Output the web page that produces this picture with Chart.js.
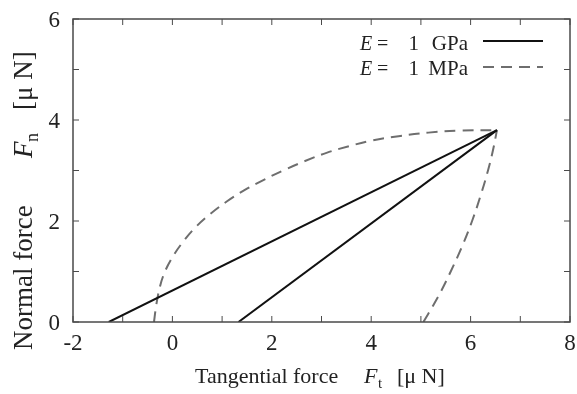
<!DOCTYPE html>
<html>
<head>
<meta charset="utf-8">
<script src="https://cdn.jsdelivr.net/npm/chart.js@4/dist/chart.umd.min.js"></script>
<style>
  html, body { margin: 0; padding: 0; background: #fff; }
</style>
</head>
<body>
<canvas id="chart" width="577" height="394"></canvas>
<script>
// axis ticks
const xTicks = [-2, 0, 2, 4, 6, 8];
const xMinor = [-1, 1, 3, 5, 7];
const yTicks = [0, 2, 4, 6];
const yMinor = [1, 3, 5];

// E = 1 GPa (solid): loading and unloading lines
const gpaLoadX = [-1.28, 6.53];
const gpaLoadY = [0, 3.80];
const gpaUnloadX = [1.33, 6.53];
const gpaUnloadY = [0, 3.80];

// E = 1 MPa (dashed): two curved branches
const mpaUpperX = [-0.37, -0.33, -0.27, -0.17, 0.00, 0.20, 0.45, 0.75, 1.10, 1.45, 1.85, 2.25, 2.65, 3.10, 3.55, 4.00, 4.55, 5.15, 5.80, 6.53];
const mpaUpperY = [0.00, 0.30, 0.62, 0.95, 1.28, 1.57, 1.86, 2.13, 2.39, 2.61, 2.82, 3.01, 3.18, 3.35, 3.48, 3.59, 3.68, 3.75, 3.79, 3.80];
const mpaLowerX = [5.05, 5.23, 5.40, 5.60, 5.83, 6.03, 6.20, 6.35, 6.45, 6.53];
const mpaLowerY = [0.00, 0.30, 0.60, 1.00, 1.50, 2.00, 2.50, 3.00, 3.40, 3.80];

const pts = (xs, ys) => xs.map((v, i) => ({ x: v, y: ys[i] }));

const SERIF = '"Liberation Serif", "Times New Roman", serif';
const DASH = [11, 7];

// draws a row of text pieces: [text, font, x, dy]
function drawPieces(ctx, pieces, baseY) {
    pieces.forEach(p => {
        ctx.font = p[1];
        ctx.fillText(p[0], p[2], baseY + (p[3] || 0));
    });
}

const framePlugin = {
    id: 'frame',
    afterDraw(chart) {
        const { ctx, chartArea: a, scales: { x, y } } = chart;
        ctx.save();

        // border
        ctx.strokeStyle = '#4a4a4a';
        ctx.lineWidth = 1.5;
        ctx.strokeRect(a.left, a.top, a.right - a.left, a.bottom - a.top);

        // inward ticks on all four sides
        ctx.lineWidth = 1;
        ctx.beginPath();
        const xt = (vals, len) => vals.forEach(v => {
            const px = x.getPixelForValue(v);
            ctx.moveTo(px, a.bottom); ctx.lineTo(px, a.bottom - len);
            ctx.moveTo(px, a.top); ctx.lineTo(px, a.top + len);
        });
        const yt = (vals, len) => vals.forEach(v => {
            const py = y.getPixelForValue(v);
            ctx.moveTo(a.left, py); ctx.lineTo(a.left + len, py);
            ctx.moveTo(a.right, py); ctx.lineTo(a.right - len, py);
        });
        xt(xTicks, 6); xt(xMinor, 6);
        yt(yTicks, 6); yt(yMinor, 6);
        ctx.stroke();

        // tick labels
        ctx.fillStyle = '#222';
        ctx.font = '23px ' + SERIF;
        ctx.textAlign = 'center';
        ctx.textBaseline = 'alphabetic';
        xTicks.forEach(v => ctx.fillText(String(v), x.getPixelForValue(v), 350));
        ctx.textAlign = 'right';
        yTicks.forEach(v => ctx.fillText(String(v), 60, y.getPixelForValue(v) + 8));

        // x axis title
        ctx.textAlign = 'left';
        drawPieces(ctx, [
            ['Tangential force', '22px ' + SERIF, 195],
            ['F', 'italic 22px ' + SERIF, 364],
            ['t', '15px ' + SERIF, 378, 5],
            ['[\u03bc N]', '22px ' + SERIF, 397]
        ], 383);

        // y axis title (rotated)
        ctx.save();
        ctx.translate(32, 350);
        ctx.rotate(-Math.PI / 2);
        drawPieces(ctx, [
            ['Normal force', '27px ' + SERIF, 0],
            ['F', 'italic 27px ' + SERIF, 192],
            ['n', '18px ' + SERIF, 208, 6],
            ['[\u03bc N]', '27px ' + SERIF, 240]
        ], 0);
        ctx.restore();

        // legend
        const legend = [
            { unit: 'GPa', base: 50, lineY: 41, dash: [], color: '#111' },
            { unit: 'MPa', base: 75, lineY: 67, dash: DASH, color: '#6e6e6e' }
        ];
        legend.forEach(l => {
            ctx.fillStyle = '#222';
            ctx.textAlign = 'left';
            drawPieces(ctx, [
                ['E', 'italic 20px ' + SERIF, 360],
                ['=', '20px ' + SERIF, 377]
            ], l.base);
            ctx.font = '21px ' + SERIF;
            ctx.textAlign = 'right';
            ctx.fillText('1', 419, l.base);
            ctx.fillText(l.unit, 468, l.base);
            ctx.strokeStyle = l.color;
            ctx.lineWidth = 2;
            ctx.setLineDash(l.dash);
            ctx.beginPath();
            ctx.moveTo(483, l.lineY);
            ctx.lineTo(543, l.lineY);
            ctx.stroke();
            ctx.setLineDash([]);
        });

        ctx.restore();
    }
};

const solid = { borderColor: '#111', borderWidth: 2, pointRadius: 0, tension: 0, fill: false };
const dashed = { borderColor: '#6e6e6e', borderWidth: 2, borderDash: DASH, pointRadius: 0, tension: 0.4, fill: false };

new Chart(document.getElementById('chart'), {
    type: 'scatter',
    data: {
        datasets: [
            { label: 'E = 1 GPa', data: pts(gpaLoadX, gpaLoadY), showLine: true, ...solid },
            { label: 'E = 1 GPa', data: pts(gpaUnloadX, gpaUnloadY), showLine: true, ...solid },
            { label: 'E = 1 MPa', data: pts(mpaUpperX, mpaUpperY), showLine: true, ...dashed },
            { label: 'E = 1 MPa', data: pts(mpaLowerX, mpaLowerY), showLine: true, ...dashed }
        ]
    },
    options: {
        responsive: false,
        animation: false,
        layout: { padding: { left: 73, right: 7, top: 19, bottom: 72 } },
        plugins: { legend: { display: false }, tooltip: { enabled: false } },
        scales: {
            x: { type: 'linear', min: -2, max: 8, display: false },
            y: { type: 'linear', min: 0, max: 6, display: false }
        }
    },
    plugins: [framePlugin]
});
</script>
</body>
</html>
